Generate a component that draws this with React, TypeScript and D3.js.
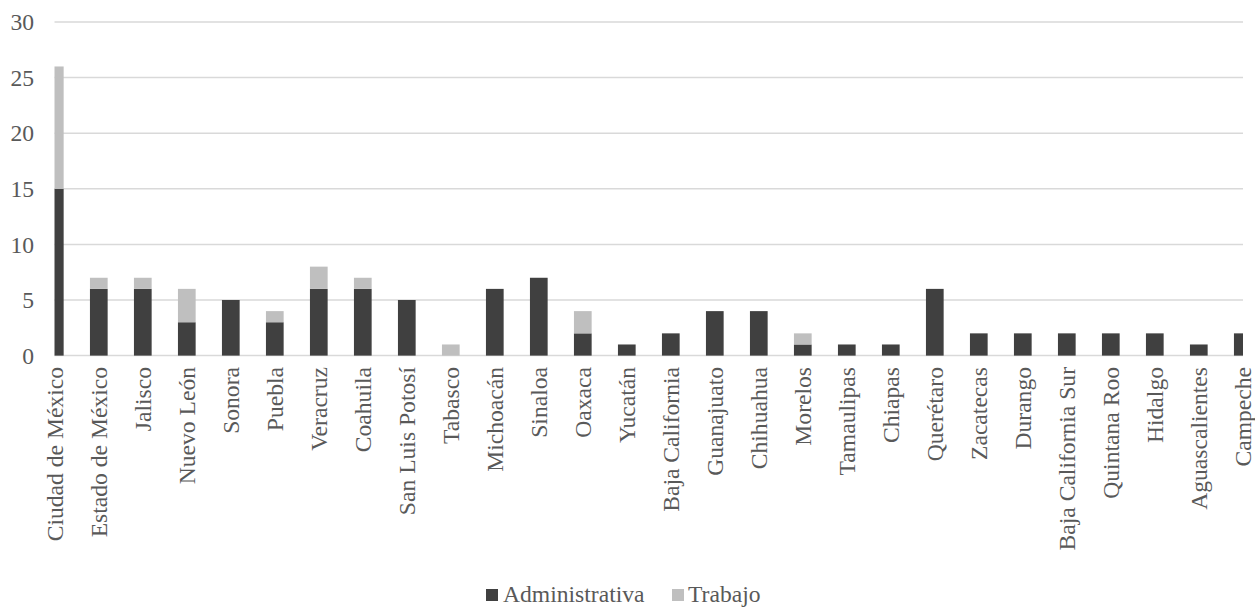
import React from "react";
import * as d3 from "d3";

const categories = [
  "Ciudad de México", "Estado de México", "Jalisco", "Nuevo León", "Sonora",
  "Puebla", "Veracruz", "Coahuila", "San Luis Potosí", "Tabasco", "Michoacán",
  "Sinaloa", "Oaxaca", "Yucatán", "Baja California", "Guanajuato", "Chihuahua",
  "Morelos", "Tamaulipas", "Chiapas", "Querétaro", "Zacatecas", "Durango",
  "Baja California Sur", "Quintana Roo", "Hidalgo", "Aguascalientes", "Campeche",
];
const administrativa = [15, 6, 6, 3, 5, 3, 6, 6, 5, 0, 6, 7, 2, 1, 2, 4, 4, 1, 1, 1, 6, 2, 2, 2, 2, 2, 1, 2];
const trabajo = [11, 1, 1, 3, 0, 1, 2, 1, 0, 1, 0, 0, 2, 0, 0, 0, 0, 1, 0, 0, 0, 0, 0, 0, 0, 0, 0, 0];
const yTicks = [0, 5, 10, 15, 20, 25, 30];
const seriesNames = ["Administrativa", "Trabajo"];
const seriesColors = ["#404040", "#bfbfbf"];

const W = 1255;
const H = 608;
const plotLeft = 54.5;
const plotRight = 1243;
const TEXT = "#595959";
const GRID = "#d9d9d9";
const textStyle = { fontFamily: "Liberation Serif", fontSize: "23.6px" };

// legend entries: swatch x and label x
const legendSwatchX = [486, 672];
const legendLabelX = [503, 688];

export default function App() {
  const x = d3.scalePoint<string>().domain(categories).range([54.8, 1242.8]);
  const y = d3.scaleLinear().domain([0, 30]).range([355.6, 22]);
  const barW = 17.7;

  const rows = categories.map((c, i) => ({ c, Administrativa: administrativa[i], Trabajo: trabajo[i] }));
  const stacked = d3.stack<any>().keys(seriesNames)(rows);

  return (
    <svg width={W} height={H} style={{ position: "absolute", left: 0, top: 0, fontFamily: "Liberation Serif" }}>
      <defs>
        <clipPath id="plot-clip">
          <rect x={plotLeft} y={0} width={plotRight - plotLeft} height={H} />
        </clipPath>
      </defs>
      {yTicks.map((t) => (
        <g key={t}>
          <line x1={plotLeft} x2={plotRight} y1={y(t)} y2={y(t)} stroke={GRID} strokeWidth={1.5} />
          <text x={34} y={y(t)} dy="0.35em" textAnchor="end" fill={TEXT} style={textStyle}>
            {t}
          </text>
        </g>
      ))}
      <g clipPath="url(#plot-clip)">
        {stacked.map((s, si) =>
          s.map((d, i) =>
            d[1] - d[0] > 0 ? (
              <rect
                key={`${si}-${i}`}
                x={(x(categories[i]) as number) - barW / 2}
                y={y(d[1])}
                width={barW}
                height={y(d[0]) - y(d[1])}
                fill={seriesColors[si]}
              />
            ) : null
          )
        )}
      </g>
      {categories.map((c) => (
        <text
          key={c}
          transform={`translate(${x(c)},${367}) rotate(-90)`}
          dy="0.35em"
          textAnchor="end"
          fill={TEXT}
          style={textStyle}
        >
          {c}
        </text>
      ))}
      <g>
        {seriesNames.map((name, i) => (
          <g key={name}>
            <rect x={legendSwatchX[i]} y={589} width={12} height={12} fill={seriesColors[i]} />
            <text x={legendLabelX[i]} y={602} fill={TEXT} style={textStyle}>
              {name}
            </text>
          </g>
        ))}
      </g>
    </svg>
  );
}
